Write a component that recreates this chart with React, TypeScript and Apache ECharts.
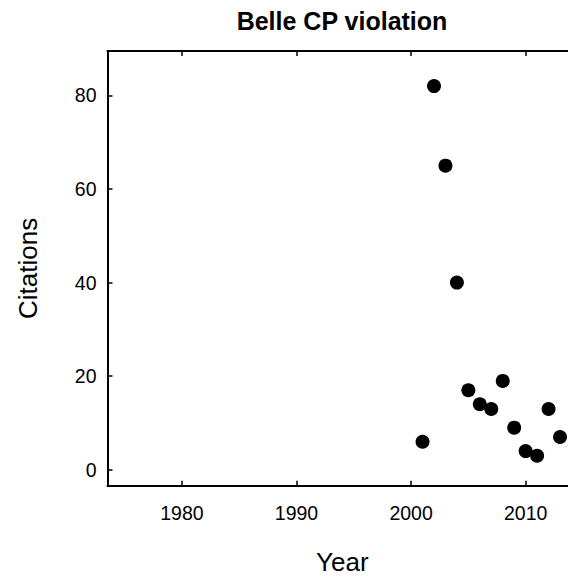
import React, { useEffect, useRef } from "react";
import * as echarts from "echarts";

const years = [2001, 2002, 2003, 2004, 2005, 2006, 2007, 2008, 2009, 2010, 2011, 2012, 2013];
const citations = [6, 82, 65, 40, 17, 14, 13, 19, 9, 4, 3, 13, 7];
const xTicks = [1980, 1990, 2000, 2010];
const yTicks = [0, 20, 40, 60, 80];
const title = "Belle CP violation";
const xName = "Year";
const yName = "Citations";

const FONT = "'Liberation Sans', Arial, Helvetica, sans-serif";

export default function App() {
  const ref = useRef<HTMLDivElement>(null);
  useEffect(() => {
    if (!ref.current) return;
    const chart = echarts.init(ref.current, undefined, { renderer: "svg" });
    const axisLine = { show: true, onZero: false, lineStyle: { color: "#000", width: 2 } };
    const tickStyle = { color: "#000", width: 1.5 };
    chart.setOption({
      animation: false,
      backgroundColor: "#fff",
      textStyle: { fontFamily: FONT },
      graphic: [
        {
          type: "text",
          x: 342,
          y: 8,
          style: {
            text: title,
            textAlign: "center",
            textVerticalAlign: "top",
            font: `bold 25px ${FONT}`,
            fill: "#000",
          },
        },
      ],
      grid: {
        left: 107.5,
        top: 51,
        width: 469.7,
        height: 434.7,
        containLabel: false,
        outerBoundsMode: "none",
      },
      xAxis: [
        {
          type: "value",
          min: 1973.5,
          max: 2014.5,
          position: "bottom",
          axisLine,
          splitLine: { show: false },
          axisTick: { show: true, inside: true, length: 5, customValues: xTicks, lineStyle: tickStyle },
          axisLabel: {
            customValues: xTicks,
            formatter: (v: number) => String(v),
            color: "#000",
            fontSize: 19.5,
            margin: 17,
            fontFamily: FONT,
          },
          name: xName,
          nameLocation: "middle",
          nameGap: 63,
          nameTextStyle: { fontSize: 26, color: "#000", fontFamily: FONT },
        },
        {
          type: "value",
          min: 1973.5,
          max: 2014.5,
          position: "top",
          axisLine,
          splitLine: { show: false },
          axisTick: { show: true, inside: true, length: 5, customValues: xTicks, lineStyle: tickStyle },
          axisLabel: { show: true, customValues: xTicks, formatter: () => "" },
        },
      ],
      yAxis: {
        type: "value",
        min: -3.4,
        max: 89.5,
        axisLine,
        splitLine: { show: false },
        axisTick: { show: true, inside: true, length: 5, customValues: yTicks, lineStyle: tickStyle },
        axisLabel: {
          customValues: yTicks,
          formatter: (v: number) => String(v),
          color: "#000",
          fontSize: 19.5,
          margin: 11,
          fontFamily: FONT,
        },
        name: yName,
        nameLocation: "middle",
        nameRotate: 90,
        nameGap: 67,
        nameTextStyle: { fontSize: 26, color: "#000", fontFamily: FONT },
      },
      series: [
        {
          type: "scatter",
          xAxisIndex: 0,
          data: years.map((y, i) => [y, citations[i]]),
          symbol: "circle",
          symbolSize: 14,
          itemStyle: { color: "#000", opacity: 1 },
        },
      ],
    });
    return () => chart.dispose();
  }, []);
  return (
    <div
      ref={ref}
      style={{ position: "fixed", left: 0, top: 0, width: 568, height: 578 }}
    />
  );
}
